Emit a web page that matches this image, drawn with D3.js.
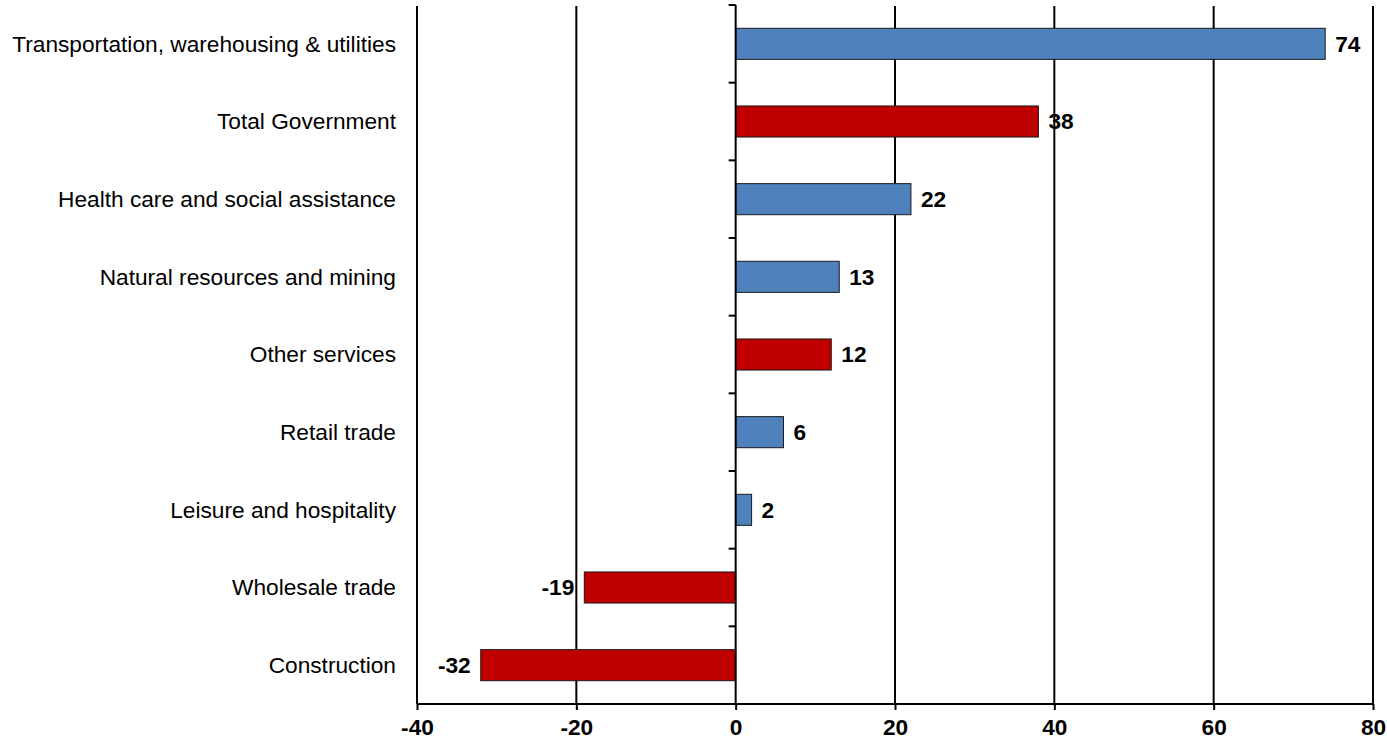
<!DOCTYPE html>
<html>
<head>
<meta charset="utf-8">
<script src="https://cdn.jsdelivr.net/npm/d3@7"></script>
<style>
  html, body { margin: 0; padding: 0; background: #fff; }
  svg { display: block; }
  text { font-family: "Liberation Sans", Arial, sans-serif; }
</style>
</head>
<body>
<svg id="chart" width="1387" height="741"></svg>
<script>
const categories = [
  "Transportation, warehousing & utilities",
  "Total Government",
  "Health care and social assistance",
  "Natural resources and mining",
  "Other services",
  "Retail trade",
  "Leisure and hospitality",
  "Wholesale trade",
  "Construction"
];
const values = [74, 38, 22, 13, 12, 6, 2, -19, -32];
const groups = ["a", "b", "a", "a", "b", "a", "a", "b", "b"];
const xTicks = [-40, -20, 0, 20, 40, 60, 80];

const colorMap = { a: "#4F81BD", b: "#C00000" };
const FS = 22.7;

const svg = d3.select("#chart");
const mLeft = 417, mRight = 1373, mTop = 5, mBottom = 704;

const x = d3.scaleLinear().domain([-40, 80]).range([mLeft, mRight]);
const y = d3.scaleBand().domain(categories).range([mTop, mBottom]).paddingInner(0.6).paddingOuter(0.3);

// gridlines
svg.append("g").selectAll("line")
  .data(xTicks.filter(d => d !== 0))
  .join("line")
  .attr("x1", d => x(d)).attr("x2", d => x(d))
  .attr("y1", mTop + 1).attr("y2", mBottom)
  .attr("stroke", "#000").attr("stroke-width", 2);

// bars
const rows = categories.map((c, i) => ({ c, v: values[i], g: groups[i] }));
svg.append("g").selectAll("rect")
  .data(rows)
  .join("rect")
  .attr("x", d => x(Math.min(0, d.v)))
  .attr("width", d => Math.abs(x(d.v) - x(0)))
  .attr("y", d => y(d.c))
  .attr("height", y.bandwidth())
  .attr("fill", d => colorMap[d.g])
  .attr("stroke", "#1a1a1a")
  .attr("stroke-width", 1);

// zero axis with category ticks
const yAxisG = svg.append("g").attr("transform", `translate(${x(0)},0)`);
yAxisG.append("line")
  .attr("x1", 0).attr("x2", 0).attr("y1", mTop).attr("y2", mBottom)
  .attr("stroke", "#000").attr("stroke-width", 2);
const boundaries = d3.range(categories.length + 1).map(i => mTop + i * (mBottom - mTop) / categories.length);
yAxisG.selectAll("line.tk")
  .data(boundaries)
  .join("line").attr("class", "tk")
  .attr("x1", -7).attr("x2", 0)
  .attr("y1", d => d).attr("y2", d => d)
  .attr("stroke", "#000").attr("stroke-width", 2);

// category labels
svg.append("g").selectAll("text")
  .data(categories)
  .join("text")
  .attr("x", 396)
  .attr("y", d => y(d) + y.bandwidth() / 2)
  .attr("dy", "0.35em")
  .attr("text-anchor", "end")
  .attr("font-size", FS)
  .attr("fill", "#000")
  .text(d => d);

// value labels
svg.append("g").selectAll("text")
  .data(rows)
  .join("text")
  .attr("x", d => d.v >= 0 ? x(d.v) + 10 : x(d.v) - 10)
  .attr("y", d => y(d.c) + y.bandwidth() / 2)
  .attr("dy", "0.35em")
  .attr("text-anchor", d => d.v >= 0 ? "start" : "end")
  .attr("font-size", FS)
  .attr("font-weight", "bold")
  .attr("fill", "#000")
  .text(d => d.v);

// bottom axis
const xAxis = d3.axisBottom(x).tickValues(xTicks).tickSize(6).tickPadding(9).tickFormat(d3.format("d"));
const xg = svg.append("g").attr("transform", `translate(0,${mBottom})`).call(xAxis);
xg.select(".domain").attr("stroke", "#000").attr("stroke-width", 2).attr("d", `M${mLeft},0H${mRight}`);
xg.selectAll(".tick line").attr("stroke", "#000").attr("stroke-width", 2);
xg.selectAll(".tick text")
  .attr("font-size", FS).attr("font-weight", "bold").attr("fill", "#000")
  .attr("font-family", "Liberation Sans, Arial, sans-serif")
  .text(d => String(d));
</script>
</body>
</html>
